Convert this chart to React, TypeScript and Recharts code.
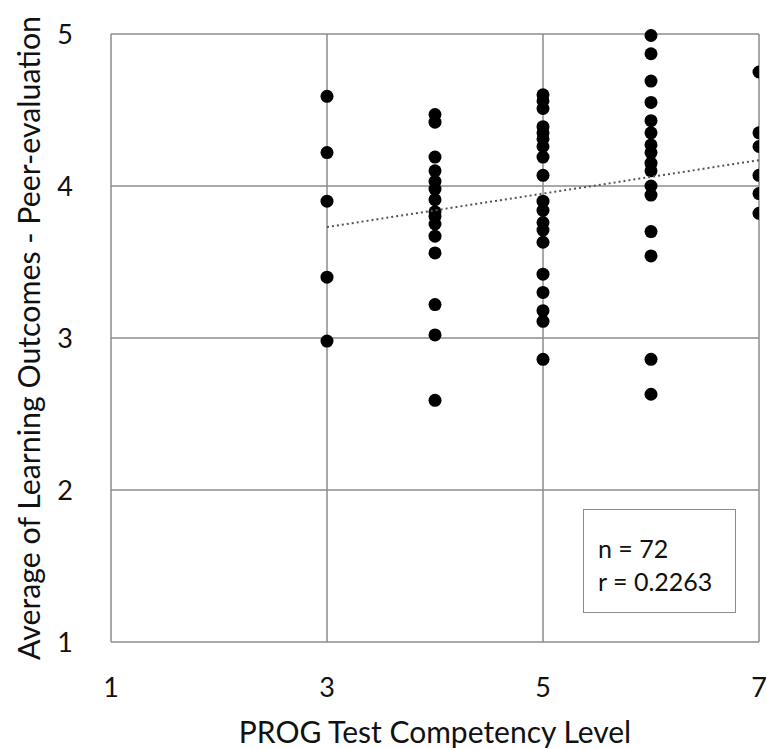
import React from "react";
import {
  ScatterChart,
  Scatter,
  XAxis,
  YAxis,
  CartesianGrid,
} from "recharts";

// PROG test level -> peer-evaluation averages
const level3 = [4.59, 4.22, 3.9, 3.4, 2.98];
const level4 = [4.47, 4.42, 4.19, 4.1, 4.03, 3.98, 3.91, 3.83, 3.8, 3.75, 3.67, 3.56, 3.22, 3.02, 2.59];
const level5 = [4.6, 4.56, 4.51, 4.39, 4.35, 4.31, 4.26, 4.19, 4.07, 3.9, 3.84, 3.76, 3.71, 3.63, 3.42, 3.3, 3.18, 3.11, 2.86];
const level6 = [4.99, 4.87, 4.69, 4.55, 4.43, 4.35, 4.27, 4.22, 4.15, 4.1, 4.0, 3.94, 3.7, 3.54, 2.86, 2.63];
const level7 = [4.75, 4.35, 4.26, 4.07, 3.95, 3.82];

const xTicks = [1, 3, 5, 7];
const yTicks = [1, 2, 3, 4, 5];

// linear trend end points
const trendX = [3, 7];
const trendY = [3.73, 4.17];

const points = [
  ...level3.map((y) => ({ x: 3, y })),
  ...level4.map((y) => ({ x: 4, y })),
  ...level5.map((y) => ({ x: 5, y })),
  ...level6.map((y) => ({ x: 6, y })),
  ...level7.map((y) => ({ x: 7, y })),
];
const trend = trendX.map((x, i) => ({ x, y: trendY[i] }));

const FONT = "Lato, 'Open Sans', sans-serif";

const Dot = (props: any) => {
  const { cx, cy } = props;
  if (cx == null || cy == null) return null;
  return <circle cx={cx} cy={cy} r={6.5} fill="#000" />;
};

export default function App() {
  return (
    <div style={{ position: "absolute", left: 0, top: 0, width: 767, height: 749, background: "#fff" }}>
      <ScatterChart
        width={767}
        height={749}
        margin={{ top: 34, right: 8, bottom: 0, left: 41 }}
      >
        <CartesianGrid
          stroke="#8c8c8c"
          strokeWidth={1.5}
          horizontal
          vertical
          verticalValues={xTicks}
          horizontalValues={yTicks}
        />
        <XAxis
          type="number"
          dataKey="x"
          domain={[1, 7]}
          ticks={xTicks}
          axisLine={false}
          tickLine={false}
          tickMargin={30}
          tick={{ fontSize: 27, fontFamily: FONT, fill: "#111" }}
          allowDataOverflow
          label={{
            value: "PROG Test Competency Level",
            position: "insideBottom",
            offset: 6,
            fontSize: 30,
            fontFamily: FONT,
            fill: "#111",
          }}
          height={107}
        />
        <YAxis
          type="number"
          dataKey="y"
          domain={[1, 5]}
          ticks={yTicks}
          axisLine={false}
          tickLine={false}
          tickMargin={32}
          tick={{ fontSize: 27, fontFamily: FONT, fill: "#111" }}
          width={70}
        />
        <Scatter data={points} fill="#000" shape={<Dot />} isAnimationActive={false} />
        <Scatter
          data={trend}
          line={{ stroke: "#555", strokeWidth: 2, strokeDasharray: "2 3" }}
          shape={() => null}
          isAnimationActive={false}
        />
      </ScatterChart>
      <svg width={767} height={749} style={{ position: "absolute", left: 0, top: 0, pointerEvents: "none" }}>
        <text
          x={28}
          y={338}
          transform="rotate(-90 28 338)"
          textAnchor="middle"
          dominantBaseline="central"
          fontSize={30.3}
          fontFamily={FONT}
          fill="#111"
        >
          Average of Learning Outcomes - Peer-evaluation
        </text>
      </svg>
      <div
        style={{
          position: "absolute",
          left: 583,
          top: 509,
          width: 153,
          height: 104,
          border: "1.5px solid #8c8c8c",
          background: "#fff",
          boxSizing: "border-box",
          fontFamily: FONT,
          fontSize: 25,
          color: "#111",
          padding: "22px 0 0 14px",
          lineHeight: "33px",
        }}
      >
        <div>n = 72</div>
        <div>r = 0.2263</div>
      </div>
    </div>
  );
}
